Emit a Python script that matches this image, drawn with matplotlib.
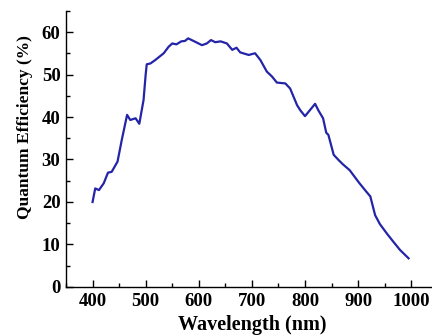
import matplotlib
matplotlib.use('Agg')
import matplotlib.pyplot as plt
from matplotlib.ticker import MultipleLocator

# quantum efficiency curve, read per wavelength
WAVELENGTH = [400, 405, 412, 421, 429, 436, 447, 455, 465, 471, 481, 488,
              496, 500, 502, 509, 518, 534, 543, 550, 558, 567, 574, 580,
              590, 606, 615, 623, 631, 641, 653, 663, 671, 678, 694, 706,
              716, 728, 738, 747, 763, 772, 785, 791, 800, 819, 825, 834,
              840, 844, 854, 863, 871, 884, 902, 913, 923, 932, 941, 954,
              966, 979, 995]
QE = [20.0, 23.2, 22.8, 24.4, 26.9, 27.1, 29.5, 34.6, 40.5, 39.3, 39.7, 38.4,
      44.0, 50.0, 52.4, 52.6, 53.4, 55.0, 56.5, 57.3, 57.1, 57.8, 57.9, 58.5,
      57.9, 56.9, 57.3, 58.1, 57.6, 57.8, 57.3, 55.8, 56.3, 55.2, 54.6, 55.0,
      53.4, 50.7, 49.5, 48.1, 47.9, 46.7, 42.8, 41.6, 40.2, 43.1, 41.6, 39.7,
      36.3, 35.8, 31.1, 29.9, 28.9, 27.5, 24.5, 22.8, 21.3, 16.9, 14.8, 12.6,
      10.7, 8.7, 6.75]

plt.rcParams.update({
    'font.family': 'Liberation Serif',
    'font.weight': 'bold',
    'font.size': 13.5,
})

fig = plt.figure(figsize=(4.32, 3.35), dpi=100)
ax = fig.add_axes([0.1528, 0.1433, 0.8606, 0.8246])

ax.plot(WAVELENGTH, QE, color='#2424a8', linewidth=1.6)

ax.set_xlim(350, 1050)
ax.set_ylim(0, 65)
ax.xaxis.set_minor_locator(MultipleLocator(50))
ax.yaxis.set_major_locator(MultipleLocator(10))
ax.yaxis.set_minor_locator(MultipleLocator(5))
ax.set_xticks(range(400, 1001, 100))
ax.tick_params(which='major', direction='in', length=5, width=1.0, pad=4)
ax.tick_params(which='minor', direction='in', length=3, width=1.0)

for side in ('top', 'right'):
    ax.spines[side].set_visible(False)
for side in ('left', 'bottom'):
    ax.spines[side].set_linewidth(1.0)

ax.set_xlabel('Wavelength (nm)', fontweight='bold', fontsize=14.5)
ax.xaxis.set_label_coords(0.50, -0.10)
ax.set_ylabel('Quantum Efficiency (%)', fontweight='bold', fontsize=12.5)
ax.yaxis.set_label_coords(-0.09, 0.58)

fig.savefig('out.png', dpi=100)
